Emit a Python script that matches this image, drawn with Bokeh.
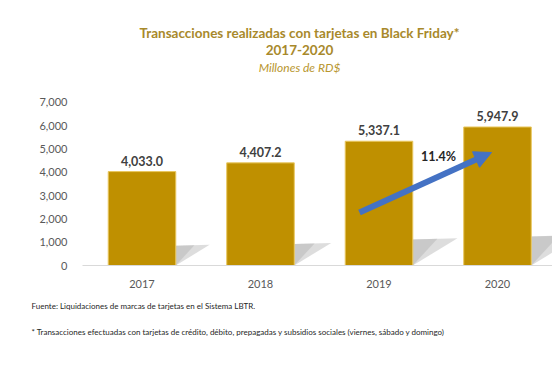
from bokeh.plotting import figure
from bokeh.models import (Range1d, FixedTicker, NumeralTickFormatter, Label, Arrow,
                          NormalHead, ColumnDataSource, Title)
from bokeh.core.properties import value
from bokeh.embed import file_html
from bokeh.resources import INLINE

# ---------------- data ----------------
years = ["2017", "2018", "2019", "2020"]
amounts = [4033.0, 4407.2, 5337.1, 5947.9]
y_ticks = [0, 1000, 2000, 3000, 4000, 5000, 6000, 7000]
title_line1 = "Transacciones realizadas con tarjetas en Black Friday*"
title_line2 = "2017-2020"
subtitle = "Millones de RD$"
source_note = "Fuente: Liquidaciones  de marcas de tarjetas en el Sistema LBTR."
footnote = ("* Transacciones efectuadas  con tarjetas de crédito, débito, prepagadas "
            "y subsidios sociales (viernes,  sábado y domingo)")

# ---------------- layout constants (page pixels) ----------------
W, H = 552, 373
FRAME_LEFT = 82
FIRST_CENTER = 141.5
STEP = 118.5
ZERO_Y = 265.0
PX_PER_UNIT = 0.023286
FONT = "Lato"

def fx(px):
    return (px - FIRST_CENTER) / STEP

def fy(py):
    return (ZERO_Y - py) / PX_PER_UNIT

GOLD = "#BF9000"
TITLE_COLOR = "#A8892B"

p = figure(width=W, height=H, output_backend="svg", toolbar_location=None,
           x_range=Range1d(fx(FRAME_LEFT), fx(W)), y_range=Range1d(0, fy(0)),
           min_border_left=FRAME_LEFT, min_border_right=0, min_border_top=0,
           min_border_bottom=int(H - ZERO_Y))
p.outline_line_color = None
p.xgrid.visible = False
p.ygrid.visible = False
p.background_fill_color = "white"
p.border_fill_color = "white"

ax = p.yaxis[0]
ax.ticker = FixedTicker(ticks=y_ticks)
ax.formatter = NumeralTickFormatter(format="0,0")
ax.axis_line_color = None
ax.major_tick_line_color = None
ax.minor_tick_line_color = None
ax.major_label_standoff = 9
ax.major_label_text_font = FONT
ax.major_label_text_font_size = "11px"
ax.major_label_text_color = "#595959"

idx = list(range(len(years)))
xa = p.xaxis[0]
xa.ticker = FixedTicker(ticks=idx)
xa.major_label_overrides = {i: y for i, y in zip(idx, years)}
xa.axis_line_color = "#D9D9D9"
xa.major_tick_line_color = None
xa.minor_tick_line_color = None
xa.major_label_standoff = 8
xa.major_label_text_font = FONT
xa.major_label_text_font_size = "11px"
xa.major_label_text_color = "#595959"

bar_w = 0.57

# shadows (perspective triangles next to each bar)
sx, sy, sx2, sy2 = [], [], [], []
for i, v in zip(idx, amounts):
    xr = i + bar_w / 2
    dx = v * 0.36 * PX_PER_UNIT / STEP
    sx.append([xr, xr, xr + dx])
    sy.append([v * 0.0, v * 0.21, v * 0.22])
    sx2.append([xr, xr, xr + dx * 0.55])
    sy2.append([v * 0.0, v * 0.21, v * 0.215])
p.patches(sx, sy, fill_color="#d4d4d4", fill_alpha=0.8, line_color=None)
p.patches(sx2, sy2, fill_color="#bcbcbc", fill_alpha=0.6, line_color=None)

src = ColumnDataSource(dict(x=idx, top=amounts,
                            lbl=[f"{v:,.1f}" for v in amounts]))
p.vbar(x="x", top="top", width=bar_w, source=src, fill_color=GOLD,
       line_color="#E9C75E", line_width=1)

p.text(x="x", y="top", text="lbl", source=src, y_offset=-6,
       text_align="center", text_baseline="bottom", text_font=value(FONT),
       text_font_style="bold", text_font_size="12.5px", text_color="#404040")

# growth arrow
growth = amounts[-1] / amounts[-2] - 1
p.add_layout(Arrow(end=NormalHead(size=17, fill_color="#4472C4", line_color="#4472C4"),
                   x_start=fx(359), y_start=fy(212), x_end=fx(491), y_end=fy(152),
                   line_color="#4472C4", line_width=6))
p.add_layout(Label(x=fx(438), y=fy(156), text=f"{growth*100:.1f}%",
                   text_align="center", text_baseline="middle", text_font=FONT,
                   text_font_style="bold", text_font_size="12.5px", text_color="#262626"))

# titles
p.add_layout(Label(x=fx(299), y=fy(32), text=title_line1, text_align="center",
                   text_baseline="middle", text_font=FONT, text_font_style="bold",
                   text_font_size="13.5px", text_color=TITLE_COLOR))
p.add_layout(Label(x=fx(299), y=fy(49), text=title_line2, text_align="center",
                   text_baseline="middle", text_font=FONT, text_font_style="bold",
                   text_font_size="13.5px", text_color=TITLE_COLOR))
p.add_layout(Label(x=fx(299), y=fy(67), text=subtitle, text_align="center",
                   text_baseline="middle", text_font=FONT, text_font_style="italic",
                   text_font_size="12px", text_color="#B8962E"))

# footnotes (below the axis)
p.add_layout(Title(text=source_note, align="left", offset=31 - FRAME_LEFT,
                   standoff=16, text_font=FONT, text_font_size="8px",
                   text_font_style="normal", text_color="#262626"), "below")
p.add_layout(Title(text=footnote, align="left", offset=31 - FRAME_LEFT,
                   standoff=12, text_font=FONT, text_font_size="8px",
                   text_font_style="normal", text_color="#262626"), "below")

open("out.html", "w").write(file_html(p, INLINE))
